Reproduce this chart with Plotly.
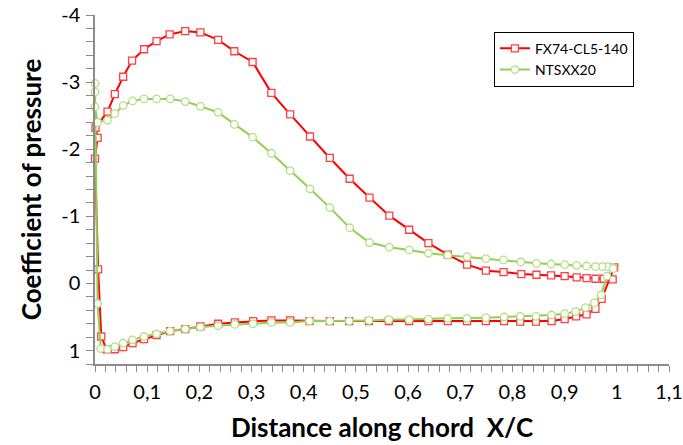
import plotly.graph_objects as go

# ---------------- data ----------------
# FX74-CL5-140 : loop upper surface (TE -> LE) then lower surface (LE -> TE)
fx_upper_x = [0.992, 0.975, 0.959, 0.942, 0.923, 0.900, 0.874, 0.846, 0.817, 0.783,
              0.749, 0.713, 0.676, 0.639, 0.602, 0.564, 0.526, 0.488, 0.450, 0.412,
              0.374, 0.338, 0.302, 0.267, 0.236, 0.202, 0.173, 0.143, 0.118, 0.094,
              0.071, 0.054, 0.038, 0.024, 0.001, 0.005, 0.0]
fx_upper_cp = [-0.06, -0.07, -0.07, -0.08, -0.09, -0.11, -0.12, -0.13, -0.14, -0.17,
               -0.19, -0.28, -0.43, -0.60, -0.80, -1.01, -1.28, -1.56, -1.87, -2.19,
               -2.52, -2.84, -3.30, -3.46, -3.63, -3.74, -3.76, -3.71, -3.61, -3.49,
               -3.32, -3.08, -2.82, -2.56, -2.32, -2.17, -1.86]
fx_lower_x = [0.006, 0.012, 0.022, 0.038, 0.054, 0.072, 0.094, 0.118, 0.144, 0.173,
              0.202, 0.236, 0.268, 0.303, 0.338, 0.374, 0.411, 0.450, 0.487, 0.525,
              0.563, 0.602, 0.639, 0.676, 0.713, 0.749, 0.784, 0.815, 0.845, 0.875,
              0.900, 0.922, 0.942, 0.959, 0.971, 0.995]
fx_lower_cp = [-0.21, 0.79, 0.98, 0.98, 0.95, 0.89, 0.83, 0.77, 0.71, 0.68,
               0.64, 0.60, 0.58, 0.56, 0.55, 0.55, 0.56, 0.56, 0.56, 0.56,
               0.56, 0.56, 0.56, 0.56, 0.56, 0.56, 0.56, 0.57, 0.57, 0.56,
               0.53, 0.49, 0.46, 0.38, 0.23, -0.24]

# NTSXX20
nt_upper_x = [0.992, 0.982, 0.972, 0.959, 0.942, 0.923, 0.900, 0.874, 0.846, 0.816,
              0.783, 0.749, 0.713, 0.676, 0.639, 0.602, 0.564, 0.526, 0.488, 0.450,
              0.412, 0.374, 0.338, 0.302, 0.267, 0.236, 0.202, 0.173, 0.144, 0.118,
              0.094, 0.072, 0.054, 0.038, 0.024, 0.005, 0.0, 0.0, 0.0]
nt_upper_cp = [-0.24, -0.25, -0.25, -0.25, -0.26, -0.27, -0.28, -0.29, -0.30, -0.32,
               -0.35, -0.37, -0.40, -0.42, -0.45, -0.50, -0.54, -0.61, -0.83, -1.13,
               -1.41, -1.68, -1.94, -2.18, -2.37, -2.55, -2.64, -2.71, -2.75, -2.75,
               -2.75, -2.72, -2.65, -2.53, -2.43, -2.40, -2.63, -2.85, -2.98]
nt_lower_x = [0.005, 0.011, 0.024, 0.038, 0.054, 0.072, 0.094, 0.118, 0.144, 0.173,
              0.202, 0.236, 0.268, 0.303, 0.338, 0.374, 0.411, 0.450, 0.487, 0.525,
              0.563, 0.602, 0.639, 0.676, 0.713, 0.749, 0.784, 0.815, 0.845, 0.875,
              0.900, 0.921, 0.940, 0.957, 0.970, 0.981, 0.993]
nt_lower_cp = [0.30, 0.97, 0.98, 0.94, 0.89, 0.84, 0.79, 0.75, 0.71, 0.68,
               0.65, 0.63, 0.61, 0.60, 0.58, 0.58, 0.56, 0.56, 0.56, 0.55,
               0.54, 0.54, 0.53, 0.52, 0.52, 0.51, 0.50, 0.49, 0.49, 0.47,
               0.45, 0.42, 0.36, 0.29, 0.17, -0.11, -0.22]

series_names = ["FX74-CL5-140", "NTSXX20"]
x_tick_vals = [0, 0.1, 0.2, 0.3, 0.4, 0.5, 0.6, 0.7, 0.8, 0.9, 1.0, 1.1]
x_tick_labels = ["0", "0,1", "0,2", "0,3", "0,4", "0,5", "0,6", "0,7", "0,8", "0,9", "1", "1,1"]
y_tick_vals = [-4, -3, -2, -1, 0, 1]
y_tick_labels = ["-4", "-3", "-2", "-1", "0", "1"]

FONT = "Lato"
AXIS_GREY = "#8c8c8c"

fig = go.Figure()
fig.add_trace(go.Scatter(
    x=fx_upper_x + fx_lower_x, y=fx_upper_cp + fx_lower_cp,
    name=series_names[0], mode="lines+markers", cliponaxis=False,
    line=dict(color="#ff0000", width=2),
    marker=dict(symbol="square", size=7, color="white",
                line=dict(color="#ff4040", width=1.3)),
))
fig.add_trace(go.Scatter(
    x=nt_upper_x + nt_lower_x, y=nt_upper_cp + nt_lower_cp,
    name=series_names[1], mode="lines+markers", cliponaxis=False,
    line=dict(color="#92d050", width=2),
    marker=dict(symbol="circle", size=7.5, color="white",
                line=dict(color="#b2df86", width=1.3)),
))

fig.update_layout(
    width=683, height=445,
    margin=dict(l=95, r=14, t=15, b=81),
    paper_bgcolor="white", plot_bgcolor="white",
    font=dict(family=FONT, color="#000000"),
    showlegend=True,
    legend=dict(x=0.695, y=0.952, xanchor="left", yanchor="top",
                bgcolor="white", bordercolor="#000000", borderwidth=1,
                font=dict(family=FONT, size=14, color="#000000"),
                tracegroupgap=0, itemwidth=30),
)

fig.update_xaxes(
    range=[0, 1.1], showgrid=False, zeroline=False, automargin=False,
    showline=True, linecolor=AXIS_GREY, linewidth=1.5,
    tickmode="array", tickvals=x_tick_vals, ticktext=x_tick_labels,
    ticks="outside", ticklen=6, tickcolor=AXIS_GREY, tickwidth=1,
    minor=dict(dtick=0.02, ticks="outside", ticklen=6, tickcolor=AXIS_GREY, tickwidth=1),
    tickfont=dict(family=FONT, size=20, color="#000000"),
    ticklabelstandoff=3,
    title=dict(text="<b>Distance along chord  X/C</b>",
               font=dict(family=FONT, size=26, color="#000000"), standoff=17),
)
fig.update_yaxes(
    range=[1.2, -4], showgrid=False, zeroline=False, automargin=False,
    showline=True, linecolor=AXIS_GREY, linewidth=1.5,
    tickmode="array", tickvals=y_tick_vals, ticktext=y_tick_labels,
    ticks="outside", ticklen=7, tickcolor=AXIS_GREY, tickwidth=1,
    minor=dict(dtick=0.2, ticks="outside", ticklen=7, tickcolor=AXIS_GREY, tickwidth=1),
    tickfont=dict(family=FONT, size=20, color="#000000"),
    ticklabelstandoff=2,
    title=dict(text="<b>Coefficient of pressure</b>",
               font=dict(family=FONT, size=26, color="#000000"), standoff=12),
)

# remove the browser's default 8 px body margin so the figure sits at (0, 0)
fig.write_html(
    "out.html",
    config={"displayModeBar": False},
    post_script="document.body.style.margin='0px';document.body.style.overflow='hidden';",
)
